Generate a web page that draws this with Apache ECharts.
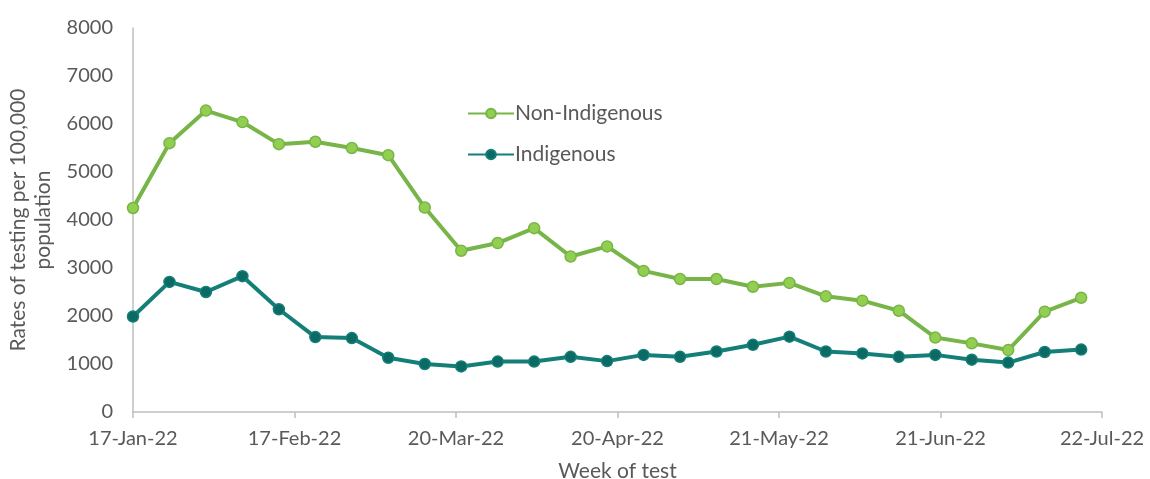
<!DOCTYPE html>
<html>
<head>
<meta charset="utf-8">
<script src="https://cdn.jsdelivr.net/npm/echarts@6/dist/echarts.min.js"></script>
<style>
  html, body { margin: 0; padding: 0; background: #ffffff; }
  #chart { width: 1150px; height: 479px; }
</style>
</head>
<body>
<div id="chart"></div>
<script>
// Week of test (start date of each weekly period)
const weeks = [
  '2022-01-17', '2022-01-24', '2022-01-31', '2022-02-07', '2022-02-14', '2022-02-21',
  '2022-02-28', '2022-03-07', '2022-03-14', '2022-03-21', '2022-03-28', '2022-04-04',
  '2022-04-11', '2022-04-18', '2022-04-25', '2022-05-02', '2022-05-09', '2022-05-16',
  '2022-05-23', '2022-05-30', '2022-06-06', '2022-06-13', '2022-06-20', '2022-06-27',
  '2022-07-04', '2022-07-11', '2022-07-18'
];

// Rates of testing per 100,000 population
const nonIndigenous = [
  4250, 5600, 6280, 6040, 5580, 5630, 5500, 5350, 4260, 3360, 3520, 3830, 3240, 3450,
  2940, 2770, 2770, 2610, 2690, 2410, 2320, 2110, 1550, 1430, 1290, 2090, 2380
];
const indigenous = [
  1990, 2710, 2500, 2830, 2140, 1560, 1540, 1130, 1000, 950, 1050, 1050, 1150, 1060,
  1190, 1150, 1260, 1400, 1570, 1260, 1220, 1150, 1190, 1090, 1030, 1250, 1300
];

// Date-axis labels, one every 31 days from the first week
const xTickLabels = ['17-Jan-22', '17-Feb-22', '20-Mar-22', '20-Apr-22', '21-May-22', '21-Jun-22', '22-Jul-22'];

const DAY = 86400000;
const origin = Date.UTC(2022, 0, 17);
const dayOffset = d => Math.round((Date.parse(d + 'T00:00:00Z') - origin) / DAY);
const toPoints = vals => vals.map((v, i) => [dayOffset(weeks[i]), v]);

const textColor = '#595959';
const axisGrey = '#bfbfbf';
const font = 'Lato, "Open Sans", sans-serif';

const chart = echarts.init(document.getElementById('chart'), null, { renderer: 'canvas' });
chart.setOption({
  animation: false,
  backgroundColor: '#ffffff',
  textStyle: { fontFamily: font },
  grid: { left: 133, right: 48, top: 28, bottom: 67, containLabel: false, outerBoundsMode: 'none' },
  legend: {
    orient: 'vertical',
    left: 462,
    top: 98,
    itemWidth: 46,
    itemHeight: 12,
    itemGap: 20,
    textStyle: { color: textColor, fontSize: 21, fontFamily: font, padding: [0, 0, 0, -4] },
    data: ['Non-Indigenous', 'Indigenous']
  },
  xAxis: {
    type: 'value',
    min: 0,
    max: 186,
    interval: 31,
    name: 'Week of test',
    nameLocation: 'middle',
    nameGap: 49,
    nameTextStyle: { color: textColor, fontSize: 21, fontFamily: font },
    axisLine: { show: true, lineStyle: { color: axisGrey, width: 1.5 } },
    axisTick: { show: true, length: 6, lineStyle: { color: axisGrey, width: 1.5 } },
    splitLine: { show: false },
    axisLabel: {
      color: textColor,
      fontSize: 20,
      fontFamily: font,
      margin: 17,
      formatter: v => xTickLabels[Math.round(v / 31)] || ''
    }
  },
  yAxis: {
    type: 'value',
    min: 0,
    max: 8000,
    interval: 1000,
    name: 'Rates of testing per 100,000\npopulation',
    nameLocation: 'middle',
    nameGap: 73,
    nameRotate: 90,
    nameTextStyle: { color: textColor, fontSize: 21, fontFamily: font, lineHeight: 25, align: 'center' },
    axisLine: { show: true, lineStyle: { color: axisGrey, width: 1.5 } },
    axisTick: { show: false },
    splitLine: { show: false },
    axisLabel: { color: textColor, fontSize: 20, fontFamily: font, margin: 20, formatter: v => String(v) }
  },
  series: [
    {
      name: 'Non-Indigenous',
      type: 'line',
      data: toPoints(nonIndigenous),
      symbol: 'circle',
      symbolSize: 11,
      lineStyle: { color: '#78b548', width: 4 },
      itemStyle: { color: '#92cf50', borderColor: '#78b548', borderWidth: 1.5 },
      z: 2
    },
    {
      name: 'Indigenous',
      type: 'line',
      data: toPoints(indigenous),
      symbol: 'circle',
      symbolSize: 11,
      lineStyle: { color: '#137f78', width: 4 },
      itemStyle: { color: '#0b6a63', borderColor: '#137f78', borderWidth: 1.5 },
      z: 3
    }
  ]
});
</script>
</body>
</html>
